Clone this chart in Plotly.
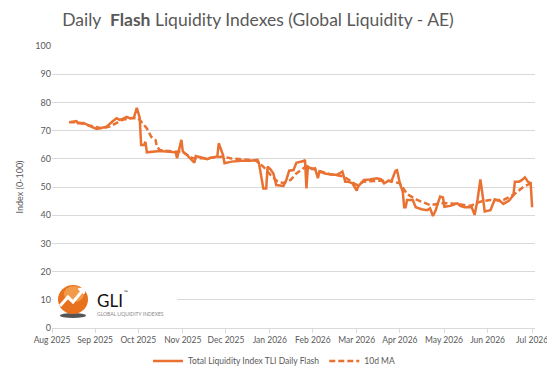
import plotly.graph_objects as go

# ---- data ----
tli_dates = ["2025-08-13","2025-08-17","2025-08-18","2025-08-19","2025-08-23","2025-08-27","2025-09-01","2025-09-05","2025-09-08","2025-09-12","2025-09-15","2025-09-17","2025-09-19","2025-09-22","2025-09-24","2025-09-27","2025-09-29","2025-10-01","2025-10-02","2025-10-04","2025-10-05","2025-10-06","2025-10-15","2025-10-26","2025-10-27","2025-10-30","2025-10-31","2025-11-03","2025-11-05","2025-11-08","2025-11-09","2025-11-13","2025-11-17","2025-11-20","2025-11-24","2025-11-25","2025-11-28","2025-11-29","2025-12-04","2025-12-11","2025-12-17","2025-12-22","2025-12-23","2025-12-26","2025-12-28","2025-12-29","2025-12-31","2026-01-02","2026-01-04","2026-01-09","2026-01-11","2026-01-13","2026-01-16","2026-01-18","2026-01-23","2026-01-24","2026-01-25","2026-01-26","2026-01-29","2026-01-31","2026-02-02","2026-02-03","2026-02-07","2026-02-12","2026-02-15","2026-02-17","2026-02-19","2026-02-21","2026-02-23","2026-02-26","2026-03-01","2026-03-02","2026-03-06","2026-03-10","2026-03-15","2026-03-18","2026-03-20","2026-03-23","2026-03-25","2026-03-28","2026-03-29","2026-03-31","2026-04-02","2026-04-03","2026-04-04","2026-04-05","2026-04-09","2026-04-11","2026-04-15","2026-04-19","2026-04-21","2026-04-23","2026-04-25","2026-04-26","2026-04-28","2026-04-30","2026-05-01","2026-05-05","2026-05-08","2026-05-10","2026-05-12","2026-05-15","2026-05-20","2026-05-22","2026-05-24","2026-05-26","2026-05-28","2026-05-29","2026-06-02","2026-06-03","2026-06-05","2026-06-09","2026-06-11","2026-06-15","2026-06-18","2026-06-19","2026-06-22","2026-06-24","2026-06-26","2026-06-28","2026-06-30","2026-07-01"]
tli_values = [73.0,73.2,73.4,72.6,72.7,71.7,70.6,71.0,71.4,73.2,74.4,73.8,74.1,74.9,74.4,74.6,78.1,74.6,64.9,64.9,66.0,62.3,62.8,62.3,60.2,66.7,62.6,61.3,60.2,58.6,61.0,60.5,59.9,60.4,60.8,65.5,61.3,58.4,59.0,59.3,59.3,59.6,58.4,49.5,49.5,57.2,56.3,54.8,50.7,50.4,52.5,55.8,56.0,58.6,59.2,59.6,49.5,57.2,56.3,56.6,53.1,55.5,54.8,54.3,54.3,54.8,55.5,51.9,51.9,51.3,48.7,50.2,52.5,52.7,53.1,52.7,51.3,52.2,51.9,55.8,56.0,51.3,48.4,42.8,42.8,45.4,45.4,42.8,42.1,41.8,42.4,39.7,41.8,43.6,46.6,46.3,43.0,43.3,44.0,44.2,43.3,42.8,42.8,40.1,45.4,52.7,45.4,41.3,41.8,43.3,45.6,44.9,44.0,45.2,47.2,51.9,51.9,52.5,53.4,51.9,51.3,42.8]

ma_dates = ["2025-08-13","2025-08-19","2025-08-27","2025-08-30","2025-09-05","2025-09-10","2025-09-15","2025-09-19","2025-09-25","2025-09-30","2025-10-02","2025-10-06","2025-10-09","2025-10-12","2025-10-13","2025-10-15","2025-10-26","2025-10-30","2025-11-07","2025-11-17","2025-11-28","2025-12-03","2025-12-17","2025-12-21","2025-12-26","2025-12-31","2026-01-05","2026-01-09","2026-01-14","2026-01-18","2026-01-23","2026-01-26","2026-02-01","2026-02-10","2026-02-20","2026-03-01","2026-03-06","2026-03-15","2026-03-24","2026-03-31","2026-04-05","2026-04-12","2026-04-21","2026-04-30","2026-05-10","2026-05-19","2026-05-26","2026-06-02","2026-06-11","2026-06-18","2026-06-25","2026-06-30","2026-07-01"]
ma_values = [73.0,72.9,71.8,71.4,70.8,71.4,72.6,73.8,74.4,74.4,73.2,70.8,67.8,66.7,64.3,63.1,62.5,62.6,60.2,60.2,60.8,60.2,59.6,59.3,57.2,54.3,51.9,51.4,52.5,54.8,56.7,57.2,56.0,54.6,53.7,50.7,51.9,52.2,52.2,51.3,47.5,45.4,43.6,44.3,44.0,43.3,44.8,45.4,45.4,47.2,50.1,51.3,50.8]

# month ticks of the source chart (evenly spaced, as in the original axis)
x_tick_vals = ["2025-08-01","2025-08-31","2025-09-30","2025-10-31","2025-11-30","2025-12-30 12:00",
               "2026-01-29 12:00","2026-03-01","2026-03-31","2026-04-30 18:00","2026-05-31","2026-07-01"]
x_tick_text = ["Aug 2025","Sep 2025","Oct 2025","Nov 2025","Dec 2025","Jan 2026",
               "Feb 2026","Mar 2026","Apr 2026","May 2026","Jun 2026","Jul 2026"]
y_ticks = [0, 10, 20, 30, 40, 50, 60, 70, 80, 90, 100]

ORANGE = "#E97132"
GRAY = "#595959"
GRID = "#D9D9D9"
FONT = "Lato"

W, H = 547, 376
L, R, T, B = 52, 12, 46, 48
PW, PH = W - L - R, H - T - B

def px(x):
    return (x - L) / PW

def py(y):
    return (H - B - y) / PH

fig = go.Figure()
fig.add_trace(go.Scatter(x=tli_dates, y=tli_values, mode="lines",
                         name="Total Liquidity Index TLI Daily Flash",
                         line=dict(color=ORANGE, width=2.5)))
fig.add_trace(go.Scatter(x=ma_dates, y=ma_values, mode="lines", name="10d MA",
                         line=dict(color=ORANGE, width=2.5, dash="6px,3px")))

shapes = []
# logo background
shapes.append(dict(type="rect", xref="paper", yref="paper", x0=px(53), x1=px(177), y0=py(322), y1=py(282),
                   fillcolor="white", line=dict(width=0), layer="above"))
# shadow
shapes.append(dict(type="circle", xref="paper", yref="paper", x0=px(60), x1=px(86), y0=py(318), y1=py(313),
                   fillcolor="#555555", line=dict(width=0), layer="above"))
# sphere
shapes.append(dict(type="circle", xref="paper", yref="paper", x0=px(58), x1=px(88), y0=py(314), y1=py(285),
                   fillcolor="#E8711E", line=dict(width=0), layer="above"))
shapes.append(dict(type="circle", xref="paper", yref="paper", x0=px(64), x1=px(84), y0=py(302), y1=py(286),
                   fillcolor="#F29A4A", line=dict(width=0), layer="above"))
# zigzag arrow
zz = [(60, 306), (68, 297), (73, 302), (83, 290)]
path = "M " + " L ".join(f"{px(a)},{py(b)}" for a, b in zz)
shapes.append(dict(type="path", xref="paper", yref="paper", path=path,
                   line=dict(color="white", width=3), layer="above"))
head = [(86, 287), (78, 289), (84, 294)]
hpath = "M " + " L ".join(f"{px(a)},{py(b)}" for a, b in head) + " Z"
shapes.append(dict(type="path", xref="paper", yref="paper", path=hpath,
                   fillcolor="white", line=dict(color="white", width=1), layer="above"))

annotations = [
    dict(text="GLI", x=px(95), y=py(300), xref="paper", yref="paper", xanchor="left", yanchor="middle",
         showarrow=False, font=dict(family="Lato", size=17, color="#111111")),
    dict(text="™", x=px(122), y=py(292), xref="paper", yref="paper", xanchor="left", yanchor="middle",
         showarrow=False, font=dict(family="Lato", size=5, color="#111111")),
    dict(text="GLOBAL LIQUIDITY INDEXES", x=px(95), y=py(314), xref="paper", yref="paper",
         xanchor="left", yanchor="middle", showarrow=False,
         font=dict(family="Lato", size=5, color="#888888")),
]

fig.update_layout(
    width=W, height=H,
    margin=dict(l=L, r=R, t=T, b=B, autoexpand=False),
    paper_bgcolor="white", plot_bgcolor="white",
    font=dict(family=FONT, size=9, color=GRAY),
    title=dict(text="Daily  <b>Flash</b> Liquidity Indexes (Global Liquidity - AE)",
               x=258 / W, xanchor="center", xref="container", y=1 - 20 / H, yanchor="middle",
               font=dict(family=FONT, size=17.5, color=GRAY)),
    showlegend=True,
    legend=dict(orientation="h", x=274 / W, xanchor="center", xref="container",
                y=1 - 361 / H, yref="container", yanchor="middle",
                font=dict(size=8.5, color=GRAY), itemwidth=30),
    shapes=shapes,
    annotations=annotations,
)
fig.update_xaxes(type="date", range=["2025-08-01", "2026-07-03"], tickvals=x_tick_vals, ticktext=x_tick_text,
                 tickangle=0, ticklabeloverflow="allow", showgrid=False, showline=True, linecolor=GRID,
                 linewidth=1, ticks="outside", ticklen=4, tickcolor=GRID, tickfont=dict(size=8.5, color=GRAY),
                 zeroline=False)
fig.update_yaxes(range=[0, 100], tickvals=y_ticks, showgrid=True, gridcolor=GRID, gridwidth=1,
                 zeroline=False, showline=False, tickfont=dict(size=9, color=GRAY),
                 title=dict(text="Index (0-100)", font=dict(size=9, color=GRAY), standoff=10))

fig.write_html("out.html")
